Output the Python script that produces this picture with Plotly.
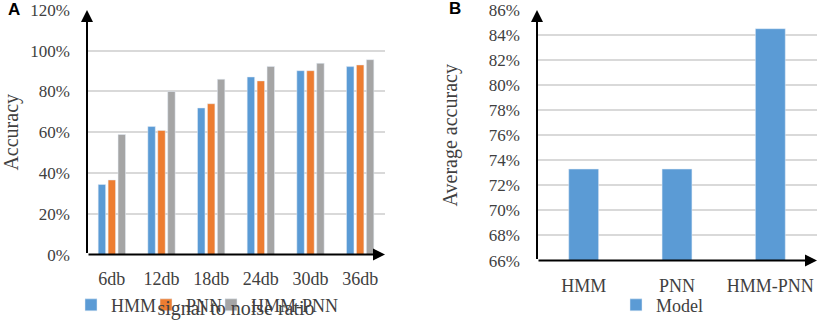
import plotly.graph_objects as go

snr = ["6db", "12db", "18db", "24db", "30db", "36db"]
hmm = [34.4, 62.8, 71.9, 87.1, 90.2, 92.2]
pnn = [36.6, 60.9, 74.0, 85.2, 90.2, 93.0]
hmm_pnn = [58.9, 80.0, 86.0, 92.3, 93.8, 95.6]

models = ["HMM", "PNN", "HMM-PNN"]
avg_acc = [73.3, 73.3, 84.5]

W, H = 829, 324
SERIF = "Liberation Serif, Times New Roman, serif"
TXT = "#404040"
GRID = "#D9D9D9"

def px_x(p):
    return p / W

def px_y(p):
    return 1 - p / H

def f(size):
    return dict(family=SERIF, size=size, color=TXT)

fig = go.Figure()
fig.add_bar(x=snr, y=hmm, name="HMM", marker_color="#5B9BD5", xaxis="x", yaxis="y", legend="legend3")
fig.add_bar(x=snr, y=pnn, name="PNN", marker_color="#ED7D31", xaxis="x", yaxis="y", legend="legend4")
fig.add_bar(x=snr, y=hmm_pnn, name="HMM-PNN", marker_color="#A5A5A5", xaxis="x", yaxis="y", legend="legend5")
fig.add_bar(x=models, y=avg_acc, name="Model", marker_color="#5B9BD5", xaxis="x2", yaxis="y2",
            legend="legend2", width=0.32)

def leg(text_left_px):
    return dict(orientation="h", x=px_x(text_left_px - 38), y=px_y(308), xanchor="left", yanchor="middle",
                font=f(18), itemwidth=30, bgcolor="rgba(0,0,0,0)")

fig.update_layout(
    width=W, height=H,
    margin=dict(l=0, r=0, t=0, b=0),
    paper_bgcolor="white", plot_bgcolor="white",
    barmode="group", bargap=0.4, bargroupgap=0.25,
    font=f(17),
    xaxis=dict(domain=[px_x(87), px_x(385)], anchor="y", showline=False, showgrid=False,
               ticks="", tickfont=f(18), automargin=False, ticklabelstandoff=11,
               title=dict(text="signal to noise ratio", font=f(20), standoff=13)),
    yaxis=dict(domain=[px_y(257), px_y(10)], anchor="x", range=[0, 120], dtick=20,
               ticksuffix="%", showgrid=True, gridcolor=GRID, gridwidth=1.5, zeroline=False,
               showline=False, tickfont=f(17), automargin=False, ticklabelstandoff=16,
               ticklabeloverflow="allow",
               title=dict(text="Accuracy", font=f(20), standoff=8)),
    xaxis2=dict(domain=[px_x(537), px_x(817)], anchor="y2", showline=False, showgrid=False,
                ticks="", tickfont=f(18), automargin=False, ticklabelstandoff=12),
    yaxis2=dict(domain=[px_y(263), px_y(10)], anchor="x2", range=[66, 86], dtick=2,
                ticksuffix="%", showgrid=True, gridcolor=GRID, gridwidth=1.5, zeroline=False,
                showline=False, tickfont=f(17), automargin=False, ticklabelstandoff=16,
                ticklabeloverflow="allow",
                title=dict(text="Average accuracy", font=f(20), standoff=25)),
    showlegend=True,
    legend3=leg(109),
    legend4=leg(184),
    legend5=leg(249),
    legend2=leg(654),
)

# axis lines with arrowheads
for xr, yr in (("x", "y"), ("x2", "y2")):
    fig.add_annotation(xref=f"{xr} domain", yref=f"{yr} domain", x=1.0, y=0,
                       axref=f"{xr} domain", ayref=f"{yr} domain", ax=0, ay=0,
                       showarrow=True, arrowhead=2, arrowsize=1.2, arrowwidth=2, arrowcolor="black", text="")
    fig.add_annotation(xref=f"{xr} domain", yref=f"{yr} domain", x=0, y=1.0,
                       axref=f"{xr} domain", ayref=f"{yr} domain", ax=0, ay=0,
                       showarrow=True, arrowhead=2, arrowsize=1.2, arrowwidth=2, arrowcolor="black", text="")

fig.add_annotation(xref="paper", yref="paper", x=px_x(6), y=px_y(10), text="<b>A</b>", showarrow=False,
                   xanchor="left", yanchor="middle", font=dict(family="Liberation Sans, Arial", size=17, color="black"))
fig.add_annotation(xref="paper", yref="paper", x=px_x(447), y=px_y(9), text="<b>B</b>", showarrow=False,
                   xanchor="left", yanchor="middle", font=dict(family="Liberation Sans, Arial", size=17, color="black"))

# remove the browser's default 8px page margin so the figure sits at the window's corner
fig.write_html("out.html", config={"displayModeBar": False},
               post_script="document.body.style.margin='0';")
